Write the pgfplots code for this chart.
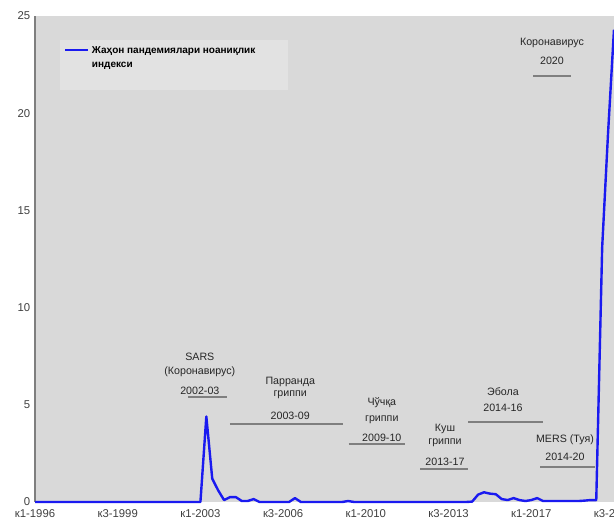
\documentclass[border=0pt]{standalone}
\usepackage{fontspec}
\setmainfont{Liberation Sans}
\usepackage{pgfplots}
\pgfplotsset{compat=1.18}
\definecolor{bggray}{HTML}{D9D9D9}
\definecolor{leggray}{HTML}{E2E2E2}
\definecolor{axgray}{HTML}{7F7F7F}
\definecolor{txtgray}{HTML}{404040}
\definecolor{lineblue}{HTML}{1A1AF0}
\tikzset{annot/.style={font=\fontsize{8}{9.5}\selectfont, text=black!85}}
\begin{document}
\begin{tikzpicture}
\begin{axis}[
  at={(26.25pt,18.75pt)}, anchor=south west,
  width=434.25pt, height=364.5pt, scale only axis,
  xmin=0, xmax=98, ymin=0, ymax=25,
  clip=false,
  axis background/.style={fill=bggray},
  axis x line=bottom, axis y line=left,
  x axis line style={draw=none},
  y axis line style={draw=axgray, line width=1.4pt, -},
  xtick={0,14,28,42,56,70,84,98},
  xticklabels={к1-1996,к3-1999,к1-2003,к3-2006,к1-2010,к3-2013,к1-2017,к3-2020},
  ytick={0,5,10,15,20,25},
  major tick length=0pt,
  /pgf/number format/assume math mode=true,
  tick label style={font=\fontsize{8.5}{10}\selectfont, text=txtgray},
  xticklabel style={yshift=-2pt},
  legend style={at={(0.043,0.951)}, anchor=north west, fill=leggray, draw=none,
    font=\fontsize{7.5}{10.5}\selectfont\bfseries, inner sep=3pt,
    nodes={text depth=22pt}},
  legend image post style={yshift=11pt},
  legend cell align=left,
]
\addplot[lineblue, line width=1.8pt, line join=round] coordinates {
(0,0) (1,0) (2,0) (3,0) (4,0) (5,0) (6,0) (7,0) (8,0) (9,0)
(10,0) (11,0) (12,0) (13,0) (14,0) (15,0) (16,0) (17,0) (18,0) (19,0)
(20,0) (21,0) (22,0) (23,0) (24,0) (25,0) (26,0) (27,0) (28,0) (29,4.4)
(30,1.2) (31,0.6) (32,0.1) (33,0.25) (34,0.25) (35,0.05) (36,0.05) (37,0.15) (38,0) (39,0)
(40,0) (41,0) (42,0) (43,0) (44,0.2) (45,0) (46,0) (47,0) (48,0) (49,0)
(50,0) (51,0) (52,0) (53,0.05) (54,0) (55,0) (56,0) (57,0) (58,0) (59,0)
(60,0) (61,0) (62,0) (63,0) (64,0) (65,0) (66,0) (67,0) (68,0) (69,0)
(70,0) (71,0) (72,0) (73,0) (74,0.02) (75,0.38) (76,0.5) (77,0.43) (78,0.4) (79,0.15)
(80,0.1) (81,0.2) (82,0.1) (83,0.05) (84,0.1) (85,0.2) (86,0.05) (87,0.05) (88,0.05) (89,0.05)
(90,0.05) (91,0.05) (92,0.05) (93,0.07) (94,0.1) (95,0.1) (96,13.1) (97,19) (98,24.3)
};
\addlegendentry{\parbox[t]{142pt}{Жаҳон пандемиялари ноаниқлик\\индекси}}
% annotations
\node[annot] at (axis cs:27.9,7.46) {SARS};
\node[annot] at (axis cs:27.9,6.69) {(Коронавирус)};
\node[annot] at (axis cs:27.9,5.71) {2002-03};
\draw[axgray, line width=1pt] (axis cs:25.9,5.40) -- (axis cs:32.5,5.40);
\node[annot] at (axis cs:43.2,6.17) {Парранда};
\node[annot] at (axis cs:43.2,5.50) {гриппи};
\node[annot] at (axis cs:43.2,4.42) {2003-09};
\draw[axgray, line width=1pt] (axis cs:33.0,4.01) -- (axis cs:52.1,4.01);
\node[annot] at (axis cs:58.7,5.09) {Чўчқа};
\node[annot] at (axis cs:58.7,4.22) {гриппи};
\node[annot] at (axis cs:58.7,3.29) {2009-10};
\draw[axgray, line width=1pt] (axis cs:53.1,2.98) -- (axis cs:62.6,2.98);
\node[annot] at (axis cs:69.4,3.76) {Куш};
\node[annot] at (axis cs:69.4,3.03) {гриппи};
\node[annot] at (axis cs:69.4,2.06) {2013-17};
\draw[axgray, line width=1pt] (axis cs:65.2,1.70) -- (axis cs:73.3,1.70);
\node[annot] at (axis cs:79.2,5.66) {Эбола};
\node[annot] at (axis cs:79.2,4.84) {2014-16};
\draw[axgray, line width=1pt] (axis cs:73.3,4.12) -- (axis cs:86.0,4.12);
\node[annot] at (axis cs:89.7,3.19) {MERS (Туя)};
\node[annot] at (axis cs:89.7,2.31) {2014-20};
\draw[axgray, line width=1pt] (axis cs:85.5,1.80) -- (axis cs:94.8,1.80);
\node[annot] at (axis cs:87.5,23.61) {Коронавирус};
\node[annot] at (axis cs:87.5,22.69) {2020};
\draw[axgray, line width=1pt] (axis cs:84.3,21.91) -- (axis cs:90.7,21.91);
\end{axis}
\pgfresetboundingbox
\useasboundingbox (0,0) rectangle (460.5pt,395.25pt);
\end{tikzpicture}
\end{document}
